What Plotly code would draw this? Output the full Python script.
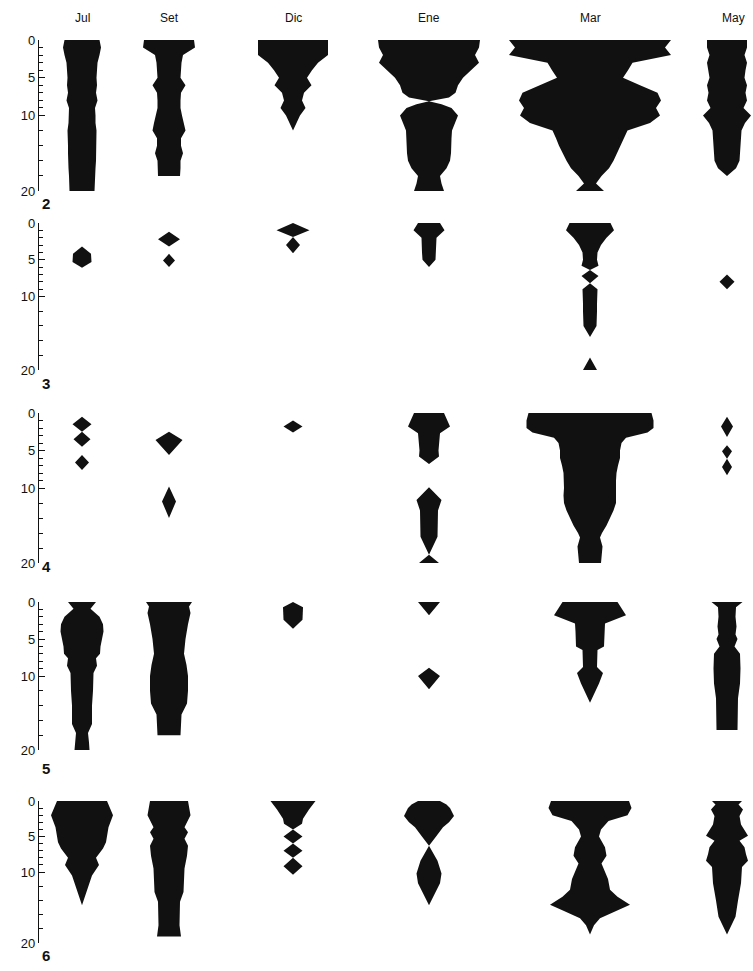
import plotly.graph_objects as go

W, H = 753, 971

MONTHS = ["Jul", "Set", "Dic", "Ene", "Mar", "May"]
PANEL_LABELS = ["2", "3", "4", "5", "6"]
DEPTH_TICKS = [0, 5, 10, 20]
DEPTH_MINOR = [1, 2, 3, 4, 6, 7, 8, 9, 12, 14, 16, 18]

# each kite: (depths, widths) ; width = abundance measure drawn symmetric about the month column
KITE_2 = {
    "Jul": ([0, 1, 2, 3, 4, 5, 6, 7, 8, 9, 10, 11, 12, 13, 14, 15, 16, 17, 18, 19, 20],
            [35, 38, 35, 31, 30, 29, 30, 28, 31, 26, 27, 27, 29, 29, 28, 28, 28, 27, 26, 25, 25]),
    "Set": ([0, 1, 2, 3, 4, 5, 6, 7, 8, 9, 10, 11, 12, 13, 14, 15, 16, 17, 18],
            [50, 52, 28, 25, 24, 23, 33, 24, 23, 23, 26, 30, 33, 24, 24, 28, 23, 23, 22]),
    "Dic": ([0, 1, 2, 3, 4, 5, 6, 7, 8, 9, 10, 11, 12],
            [70, 70, 70, 50, 38, 28, 37, 22, 18, 25, 14, 7, 0]),
    "Ene": ([0, 1, 2, 3, 4, 5, 6, 7, 7.6, 8.1, 8.5, 9, 10, 11, 12, 13, 14, 15, 16, 17, 18, 19, 20],
            [102, 100, 92, 100, 84, 68, 58, 53, 40, 0, 25, 45, 58, 52, 46, 45, 45, 44, 42, 35, 22, 25, 30]),
    "Mar": ([0, 1, 2, 3, 4, 5, 6, 7, 8, 9, 10, 11, 12, 13, 14, 15, 16, 17, 18, 19, 20],
            [162, 150, 162, 85, 76, 66, 100, 135, 142, 132, 140, 120, 75, 68, 62, 55, 47, 38, 23, 12, 28]),
    "May": ([0, 1, 2, 3, 4, 5, 6, 7, 8, 9, 10, 11, 12, 13, 14, 15, 16, 17, 18],
            [40, 40, 35, 40, 37, 35, 40, 37, 40, 33, 48, 36, 29, 28, 27, 26, 25, 18, 0]),
}

KITE_3 = {
    "Jul": ([3.2, 4.2, 5.3, 6.1], [0, 18, 19, 0]),
    "Set": ([1.2, 2.2, 3.2, 4.2, 5.1, 6.0], [0, 22, 0, 0, 12, 0]),
    "Dic": ([0, 1, 1.9, 3, 4.1], [0, 33, 0, 14, 0]),
    "Ene": ([0, 1, 2, 3, 4, 5, 6], [22, 31, 15, 14, 14, 13, 0]),
    "Mar": ([0, 1, 2, 3, 4, 5, 5.8, 6.4, 7.2, 8.2, 9, 10, 11, 12, 13, 14, 15.5, 18.3, 20],
            [41, 48, 33, 22, 15, 14, 17, 0, 17, 0, 15, 14, 14, 14, 14, 13, 0, 0, 14]),
    "May": ([7, 8, 9], [0, 15, 0]),
}

KITE_4 = {
    "Jul": ([0.5, 1.5, 2.5, 3.5, 4.5, 5.6, 6.6, 7.6], [0, 19, 0, 17, 0, 0, 14, 0]),
    "Set": ([2.5, 3.6, 5.6, 9.8, 11.8, 14], [0, 27, 0, 0, 14, 0]),
    "Dic": ([1, 1.8, 2.6], [0, 19, 0]),
    "Ene": ([0, 1.8, 2.7, 4, 5, 5.8, 6.8, 9.9, 11.6, 13, 16.5, 18.9, 20],
            [30, 42, 22, 20, 19, 20, 0, 0, 25, 18, 17, 0, 20]),
    "Mar": ([0, 1, 2, 2.6, 3.3, 4, 5, 6, 7, 8, 9, 10, 11, 12, 13, 14, 15, 16, 16.6, 17.8, 19, 20],
            [123, 127, 127, 115, 72, 63, 60, 60, 56, 53, 52, 52, 53, 52, 47, 40, 33, 24, 20, 25, 23, 22]),
    "May": ([0.5, 1.8, 3.2, 4.3, 5.1, 6.1, 7.2, 8.3], [0, 12, 0, 0, 10, 0, 10, 0]),
}

KITE_5 = {
    "Jul": ([0, 0.9, 2, 3, 4, 5, 6, 7, 7.6, 8.6, 9.6, 12, 14, 16.5, 17.7, 19, 20],
            [28, 17, 35, 42, 43, 40, 37, 36, 28, 30, 23, 22, 20, 20, 12, 14, 15]),
    "Set": ([0, 0.6, 1.5, 3, 5, 7, 8.5, 10, 12, 13.7, 15.2, 18],
            [46, 40, 43, 38, 33, 30, 35, 38, 38, 36, 25, 23]),
    "Dic": ([0, 0.7, 2.4, 3.6], [0, 20, 19, 0]),
    "Ene": ([0, 1.8, 8.9, 10, 11.8], [22, 0, 0, 22, 0]),
    "Mar": ([0, 1.8, 2.9, 4, 6, 6.5, 8.8, 9.6, 11, 13.6],
            [55, 72, 30, 29, 28, 15, 14, 26, 18, 0]),
    "May": ([0, 0.7, 2, 3.3, 4.4, 5, 6, 7, 9, 11, 13, 15, 17.3],
            [31, 18, 17, 19, 17, 21, 15, 26, 27, 26, 22, 22, 21]),
}

KITE_6 = {
    "Jul": ([0, 2, 3.7, 5.8, 6.7, 8, 9, 10.5, 14.7], [50, 62, 53, 48, 42, 28, 34, 20, 0]),
    "Set": ([0, 2, 3.7, 4.4, 5.3, 6.3, 7.7, 9.5, 12.8, 14.2, 17.5, 19.1],
            [38, 43, 31, 38, 31, 38, 36, 31, 29, 22, 21, 24]),
    "Dic": ([0, 1.2, 2.5, 3.2, 4, 5, 6, 7, 8, 9.2, 10.4],
            [45, 32, 20, 18, 0, 19, 0, 19, 0, 19, 0]),
    "Ene": ([0, 0.5, 1, 2.1, 3, 3.7, 5.1, 6.3, 8.4, 10.2, 11.6, 14.7],
            [22, 35, 42, 50, 40, 28, 13, 0, 17, 25, 22, 0]),
    "Mar": ([0, 1, 2, 2.8, 4, 5, 6.5, 7.7, 8.8, 10, 11, 12.5, 13.5, 14.6, 15.5, 16.5, 17.5, 18.8],
            [78, 83, 75, 37, 22, 18, 30, 33, 23, 30, 36, 40, 55, 80, 52, 20, 8, 0]),
    "May": ([0, 0.5, 1.2, 2.1, 3.3, 4.9, 5.6, 6.5, 7.5, 8.4, 9.3, 11.6, 14, 16.3, 18.8],
            [30, 23, 32, 25, 28, 42, 25, 35, 38, 42, 30, 28, 22, 17, 0]),
}

PANELS = [KITE_2, KITE_3, KITE_4, KITE_5, KITE_6]

# ---- layout (pixels) ----
COL_X = {"Jul": 82, "Set": 169, "Dic": 293, "Ene": 429, "Mar": 590, "May": 727}
PANEL_TOP = [40, 223, 413, 602, 801]      # pixel y of depth 0
PANEL_BOT = [191, 370, 563, 750, 943]     # pixel y of depth 20
LABEL_Y = [203, 383, 566, 768, 955]       # pixel y of panel numbers
AXIS_X = 38
INK = "#111111"
FONT = "Liberation Sans, Arial, sans-serif"

fig = go.Figure()
layout = dict(
    width=W, height=H, margin=dict(l=0, r=0, t=0, b=0, autoexpand=False),
    paper_bgcolor="white", plot_bgcolor="white", showlegend=False,
    font=dict(family=FONT, color=INK),
)

for i, kites in enumerate(PANELS):
    sfx = "" if i == 0 else str(i + 1)
    for m in MONTHS:
        if m not in kites:
            continue
        d, w = kites[m]
        c = COL_X[m]
        xs = [c + v / 2 for v in w] + [c - v / 2 for v in reversed(w)]
        ys = list(d) + list(reversed(d))
        fig.add_trace(go.Scatter(
            x=xs, y=ys, mode="lines", fill="toself", fillcolor=INK,
            line=dict(width=0, color=INK), hoverinfo="skip",
            xaxis="x" + sfx, yaxis="y" + sfx))
    top = 1 - PANEL_TOP[i] / H
    bot = 1 - PANEL_BOT[i] / H
    layout["xaxis" + sfx] = dict(range=[0, W], domain=[0, 1], visible=False,
                                 anchor="y" + sfx, fixedrange=True)
    layout["yaxis" + sfx] = dict(
        range=[20, 0], domain=[bot, top], anchor="free", position=AXIS_X / W,
        showline=True, linecolor=INK, linewidth=1.2, zeroline=False, showgrid=False,
        ticks="inside", ticklen=6, tickwidth=1.2, tickcolor=INK,
        tickvals=DEPTH_TICKS, ticktext=[str(t) for t in DEPTH_TICKS],
        tickfont=dict(size=13, family=FONT, color=INK),
        minor=dict(tickvals=DEPTH_MINOR, ticks="inside", ticklen=4, tickwidth=1, tickcolor=INK),
        automargin=False, fixedrange=True,
    )

fig.update_layout(**layout)

annotations = []
for m in MONTHS:
    annotations.append(dict(x=(COL_X[m] + (6 if m == "May" else 0)) / W, y=1 - 18 / H,
                            xref="paper", yref="paper", text=m, showarrow=False,
                            xanchor="center", yanchor="middle",
                            font=dict(size=12, family=FONT, color=INK)))
for i, lab in enumerate(PANEL_LABELS):
    annotations.append(dict(x=40 / W, y=1 - LABEL_Y[i] / H, xref="paper", yref="paper",
                            text="<b>" + lab + "</b>", showarrow=False,
                            xanchor="left", yanchor="middle",
                            font=dict(size=15, family=FONT, color=INK)))
fig.update_layout(annotations=annotations)

fig.write_html("out.html", config={"displayModeBar": False},
               post_script="document.body.style.margin='0';document.body.style.overflow='hidden';")
